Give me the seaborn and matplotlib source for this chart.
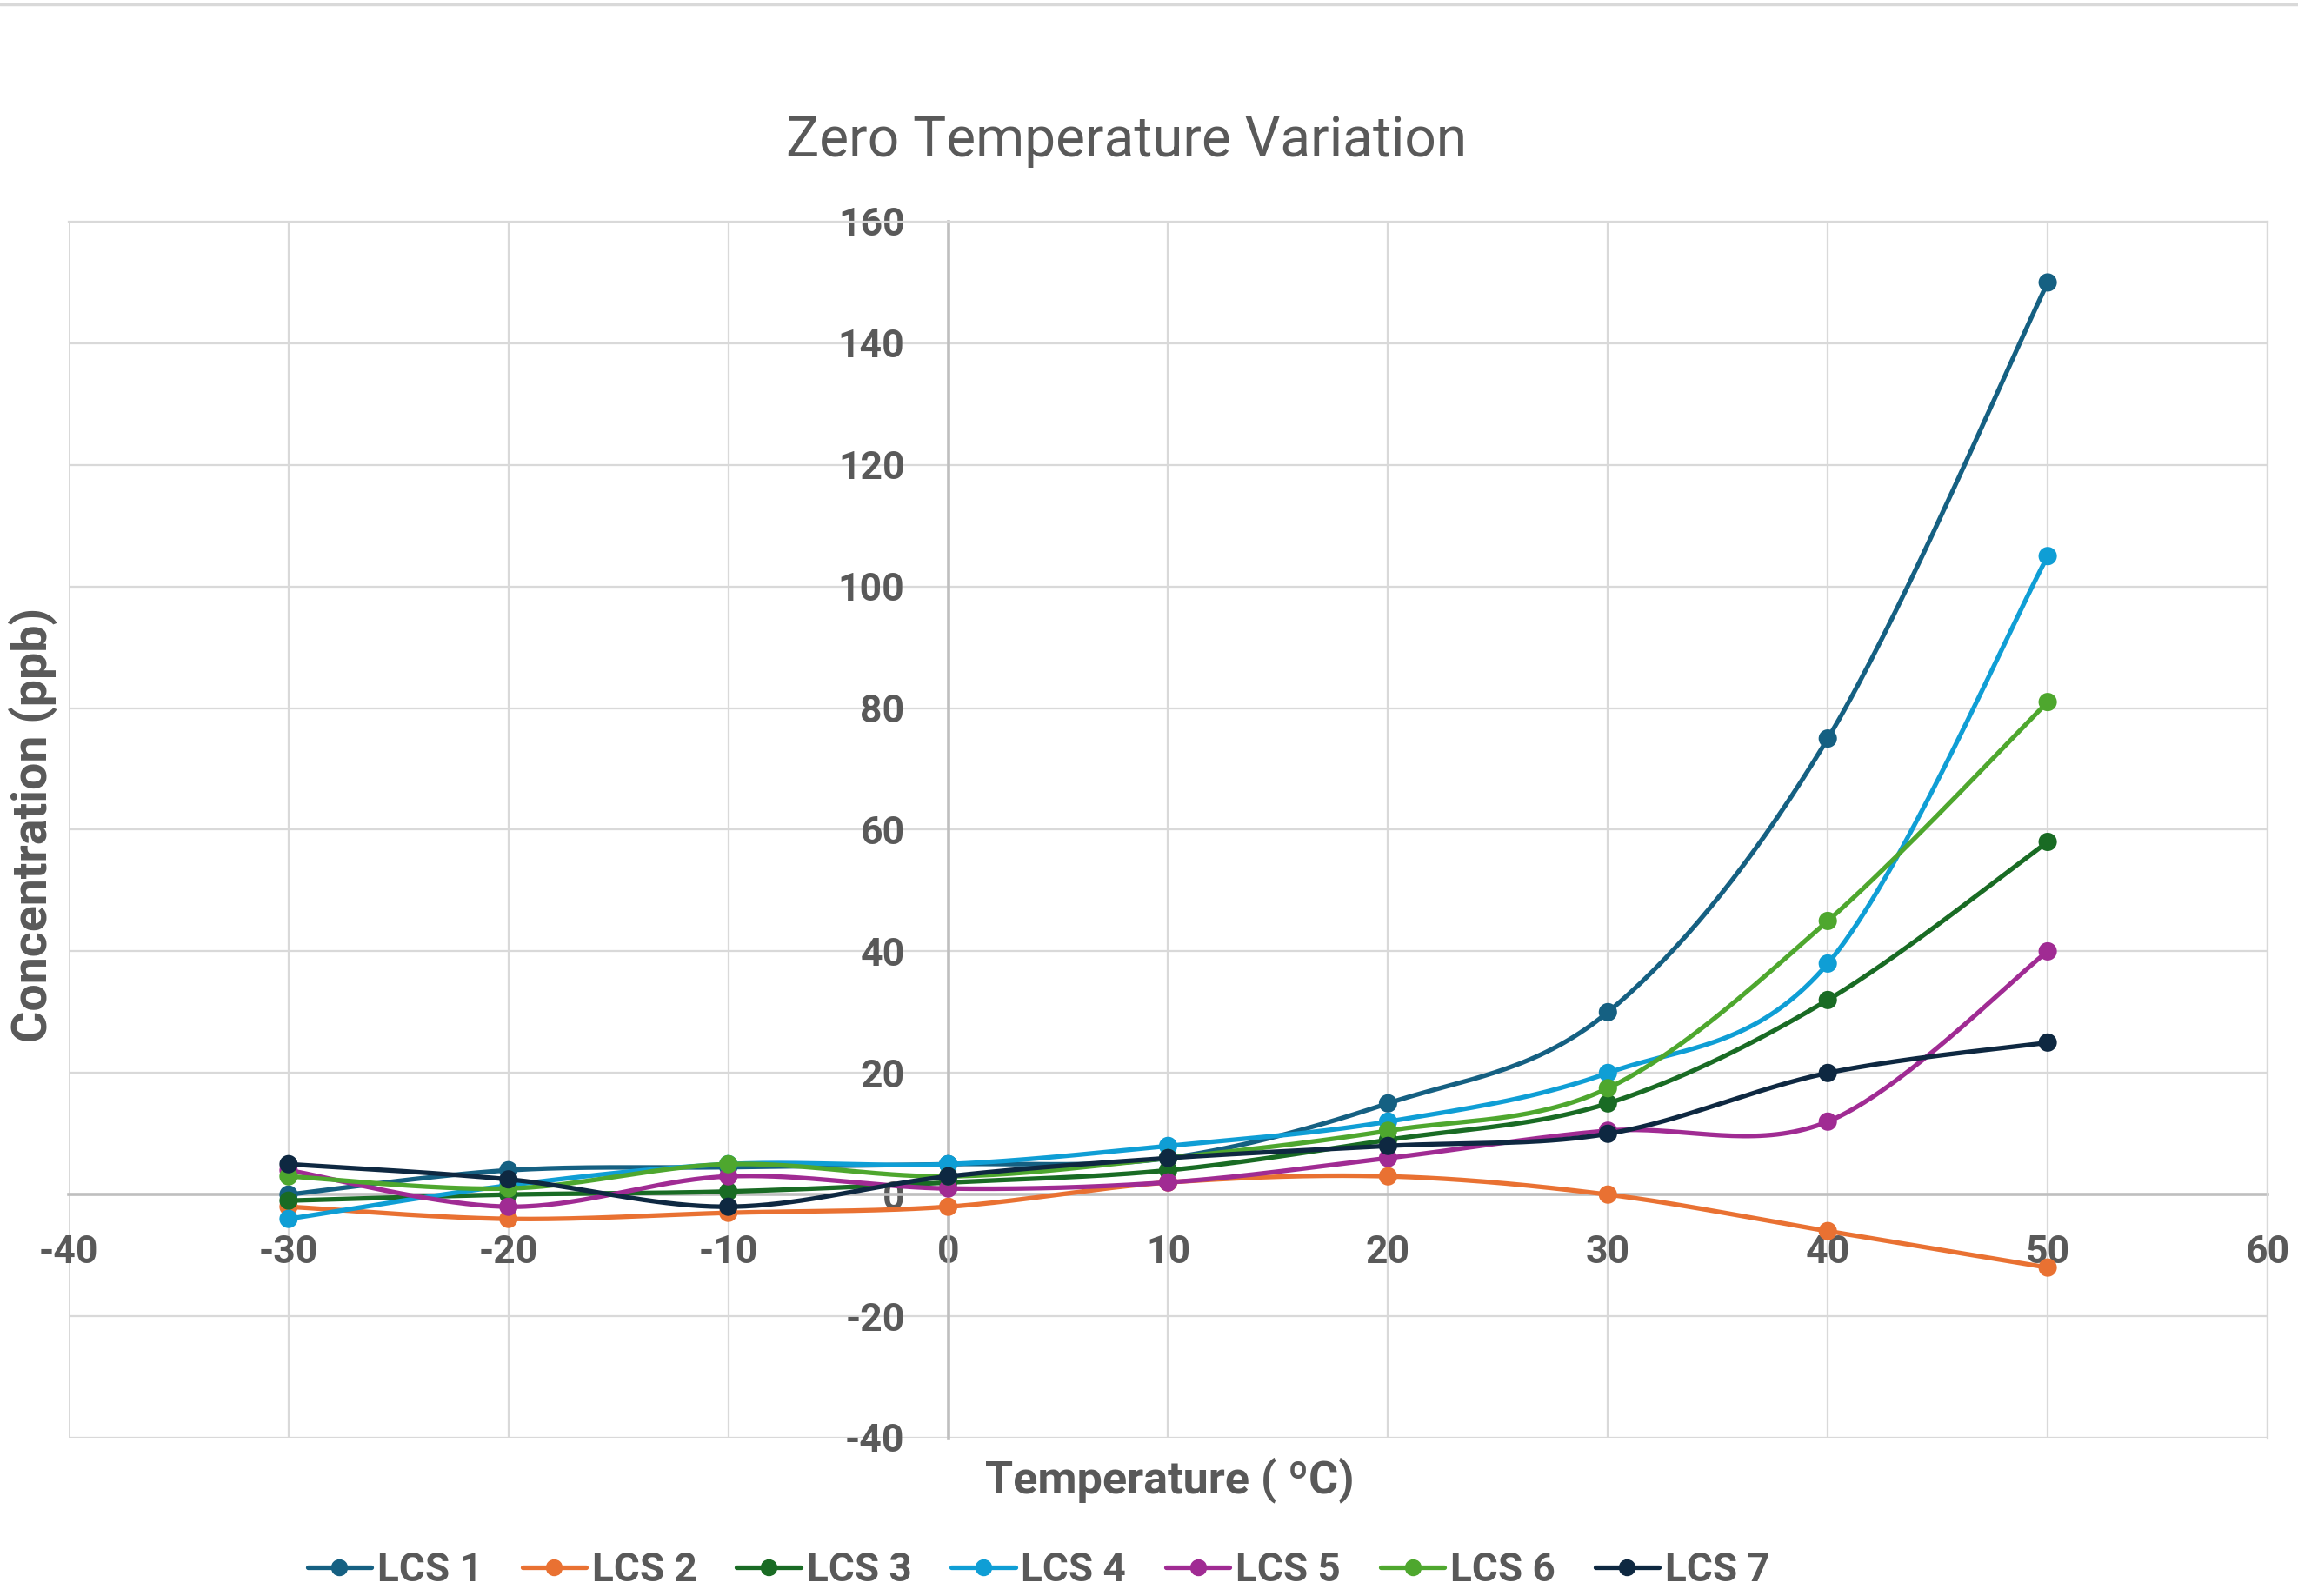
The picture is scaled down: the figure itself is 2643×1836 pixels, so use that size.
import numpy as np
import pandas as pd
import matplotlib
matplotlib.use("Agg")
import matplotlib.pyplot as plt
import seaborn as sns
from matplotlib.lines import Line2D
from matplotlib import font_manager

# ---------------- data ----------------
temperature = [-30, -20, -10, 0, 10, 20, 30, 40, 50]
lcs1 = [0, 4, 4.5, 5, 6, 15, 30, 75, 150]
lcs2 = [-2, -4, -3, -2, 2, 3, 0, -6, -12]
lcs3 = [-1, 0, 0.5, 2, 4, 9, 15, 32, 58]
lcs4 = [-4, 1.5, 5, 5, 8, 12, 20, 38, 105]
lcs5 = [4, -2, 3, 1, 2, 6, 10.5, 12, 40]
lcs6 = [3, 1, 5, 3, 6, 10.5, 17.5, 45, 81]
lcs7 = [5, 2.5, -2, 3, 6, 8, 10, 20, 25]
series_names = ["LCS 1", "LCS 2", "LCS 3", "LCS 4", "LCS 5", "LCS 6", "LCS 7"]
series_values = [lcs1, lcs2, lcs3, lcs4, lcs5, lcs6, lcs7]
x_ticks = list(range(-40, 61, 10))
y_ticks = list(range(-40, 161, 20))

colors = ["#156082", "#E97132", "#196B24", "#0F9ED5", "#A02B93", "#4EA72E", "#0E2841"]
palette = dict(zip(series_names, colors))

# ---------------- style ----------------
sns.set_style("white")
avail = {f.name for f in font_manager.fontManager.ttflist}
base_font = "Roboto" if "Roboto" in avail else "DejaVu Sans"
title_font = "Liberation Sans Narrow" if "Liberation Sans Narrow" in avail else base_font
plt.rcParams["font.family"] = [base_font, "DejaVu Sans"]
text_color = "#595959"


def excel_smooth(xs, ys, n=40):
    """Excel-like smoothed line (Catmull-Rom Bezier) through data points."""
    P = np.column_stack([xs, ys]).astype(float)
    out = []
    m = len(P)
    t = np.linspace(0, 1, n)[:, None]
    for i in range(m - 1):
        p0 = P[i]
        p3 = P[i + 1]
        pm = P[i - 1] if i > 0 else P[i]
        pp = P[i + 2] if i + 2 < m else P[i + 1]
        c1 = p0 + (p3 - pm) / 6.0
        c2 = p3 - (pp - p0) / 6.0
        seg = ((1 - t) ** 3) * p0 + 3 * ((1 - t) ** 2) * t * c1 + 3 * (1 - t) * t ** 2 * c2 + t ** 3 * p3
        if i > 0:
            seg = seg[1:]
        out.append(seg)
    return np.vstack(out)


W, H = 2643, 1836
fig = plt.figure(figsize=(W / 100, H / 100), dpi=100)
ax = fig.add_axes([79 / W, 1 - 1654 / H, (2608 - 79) / W, (1654 - 255) / H])

for k, (name, vals) in enumerate(zip(series_names, series_values)):
    curve = excel_smooth(temperature, vals)
    cdf = pd.DataFrame({"x": curve[:, 0], "y": curve[:, 1], "series": name})
    pdf = pd.DataFrame({"x": temperature, "y": vals, "series": name})
    sns.lineplot(data=cdf, x="x", y="y", hue="series", palette=palette, sort=False,
                 estimator=None, linewidth=3.8, legend=False, ax=ax, zorder=10 + 2 * k)
    sns.scatterplot(data=pdf, x="x", y="y", hue="series", palette=palette, s=230,
                    linewidth=0, legend=False, ax=ax, zorder=11 + 2 * k)

ax.set_xlim(-40, 60)
ax.set_ylim(-40, 160)
ax.set_xticks(x_ticks)
ax.set_yticks(y_ticks)
ax.set_xticklabels([str(v) for v in x_ticks])
ax.set_yticklabels([str(v) for v in y_ticks])
ax.grid(True, color="#d9d9d9", linewidth=1.6, zorder=0)
ax.set_axisbelow(True)

ax.spines["left"].set_position(("data", 0))
ax.spines["bottom"].set_position(("data", 0))
for s in ["left", "bottom"]:
    ax.spines[s].set_color("#bfbfbf")
    ax.spines[s].set_linewidth(2.6)
    ax.spines[s].set_zorder(1)
for s in ["top", "right"]:
    ax.spines[s].set_color("#d9d9d9")
    ax.spines[s].set_linewidth(1.6)

ax.tick_params(axis="both", length=0, labelsize=32, labelcolor=text_color)
ax.tick_params(axis="y", pad=36)
ax.tick_params(axis="x", pad=33)
for lab in ax.get_xticklabels() + ax.get_yticklabels():
    lab.set_fontweight("bold")
ax.set_xlabel("")
ax.set_ylabel("")

# titles / labels
fig.text(0.490, 1 - 180 / H, "Zero Temperature Variation", ha="center", va="baseline",
         fontsize=52 if title_font != base_font else 46, color=text_color,
         family=[title_font, "DejaVu Sans"])
fig.text(1345 / W, 1 - 1717 / H, "Temperature ( \u00baC)", ha="center", va="baseline",
         fontsize=37.5, fontweight="bold", color=text_color)
fig.text(38 / W, 1 - 949 / H, "Concentration (ppb)", ha="center", va="center",
         rotation=90, fontsize=40, fontweight="bold", color=text_color)

# legend
handles = [Line2D([0], [0], color=c, lw=3.8, marker="o", markersize=13) for c in colors]
leg = fig.legend(handles, series_names, loc="center", bbox_to_anchor=(0.452, 1 - 1806 / H),
                 ncol=7, frameon=False, handlelength=1.6, handletextpad=0.15,
                 columnspacing=1.0, labelcolor=text_color, borderaxespad=0, borderpad=0,
                 prop={"weight": "bold", "size": 33})

# top border line of chart area
fig.add_artist(Line2D([0, 1], [1 - 5 / H, 1 - 5 / H], color="#d9d9d9", lw=2.5,
                      transform=fig.transFigure))

fig.savefig("out.png", dpi=100, facecolor="white")
